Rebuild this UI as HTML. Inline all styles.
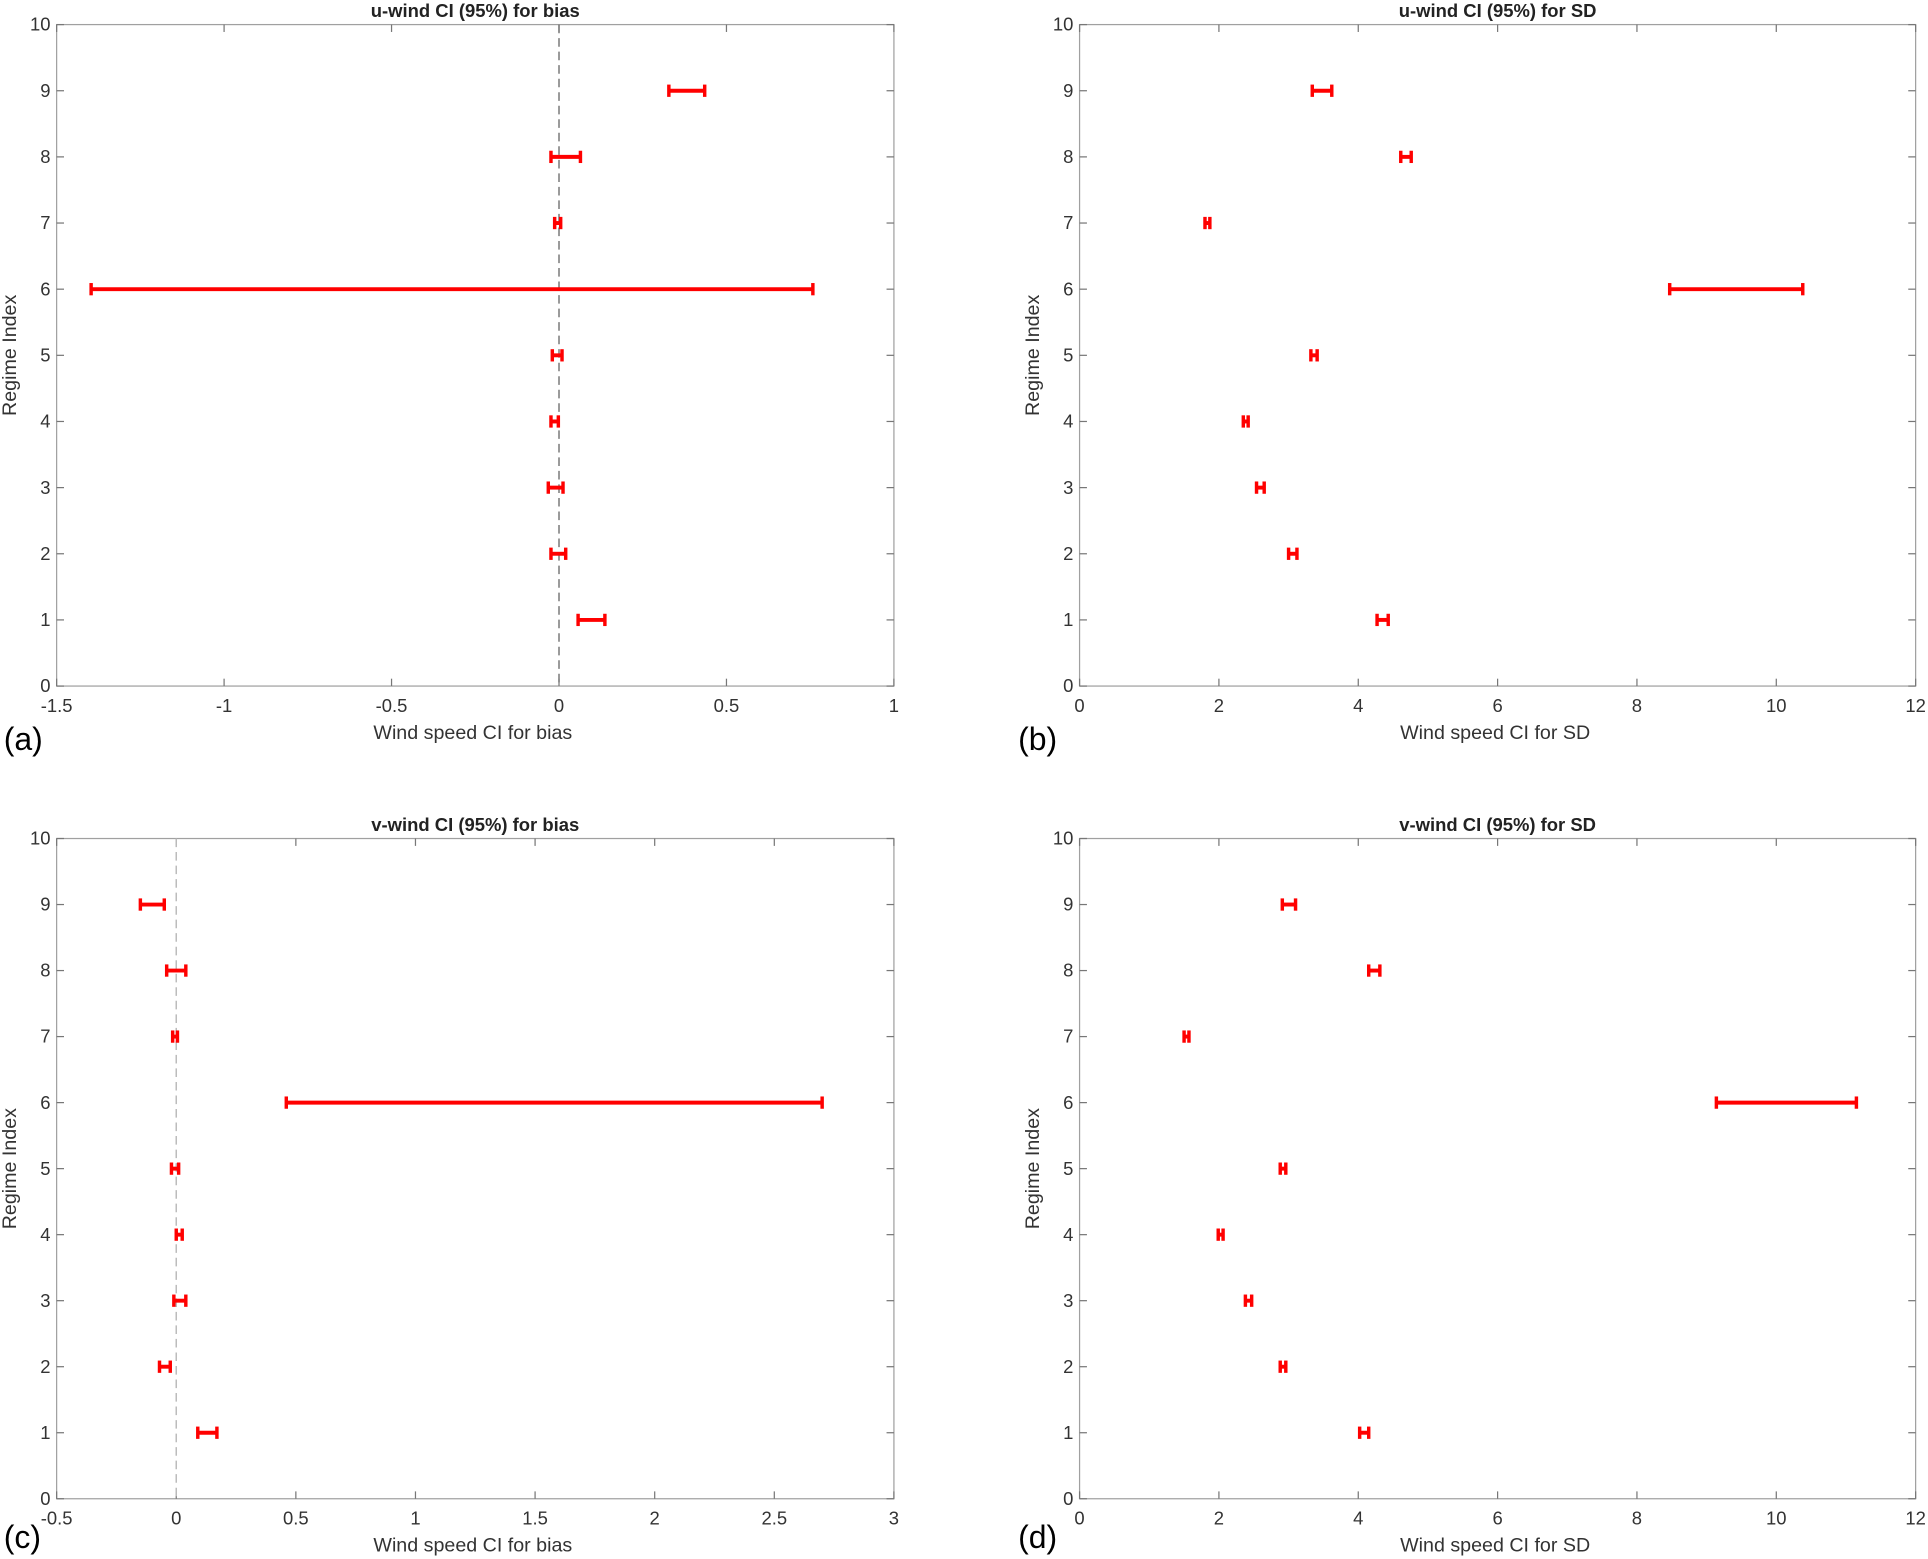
<!DOCTYPE html>
<html><head><meta charset="utf-8"><style>
html,body{margin:0;padding:0;background:#fff;}
svg{display:block;font-family:"Liberation Sans",Arial,sans-serif;}
</style></head><body>
<svg id="fig" width="1928" height="1559" viewBox="0 0 1568 1268" xmlns="http://www.w3.org/2000/svg"></svg>
<script>
const regimes=[1,2,3,4,5,6,7,8,9];
const uBiasLo=[0.057,-0.024,-0.032,-0.024,-0.02,-1.397,-0.013,-0.024,0.328];
const uBiasHi=[0.137,0.02,0.012,-0.002,0.009,0.758,0.005,0.064,0.435];
const uSdLo=[4.27,3.0,2.54,2.35,3.32,8.47,1.80,4.61,3.34];
const uSdHi=[4.43,3.12,2.65,2.42,3.41,10.38,1.87,4.76,3.62];
const vBiasLo=[0.09,-0.07,-0.01,0.0,-0.02,0.46,-0.015,-0.04,-0.15];
const vBiasHi=[0.17,-0.025,0.04,0.025,0.01,2.70,0.005,0.04,-0.05];
const vSdLo=[4.02,2.88,2.38,1.99,2.88,9.14,1.5,4.15,2.91];
const vSdHi=[4.15,2.96,2.47,2.06,2.96,11.15,1.57,4.31,3.1];
const yTicks=[0,1,2,3,4,5,6,7,8,9,10];
const xTicksA=[-1.5,-1,-0.5,0,0.5,1];
const xTicksSD=[0,2,4,6,8,10,12];
const xTicksC=[-0.5,0,0.5,1,1.5,2,2.5,3];

const NS="http://www.w3.org/2000/svg";
const svg=document.getElementById('fig');
function mk(tag,attrs,parent){const e=document.createElementNS(NS,tag);for(const k in attrs)e.setAttribute(k,attrs[k]);(parent||svg).appendChild(e);return e;}

function panel(o){
  const g=mk('g',{});
  
  
  const L=o.L,R=o.R,T=o.T,B=o.B;
  const xs=v=>L+(v-o.xmin)/(o.xmax-o.xmin)*(R-L);
  const ys=v=>B-(v-0)/10*(B-T);
  const fr=mk('rect',{x:L,y:T,width:R-L,height:B-T,fill:'none',stroke:'#a0a0a0','stroke-width':1},g);
  
  
  yTicks.forEach(t=>{
    const y=ys(t);
    mk('line',{x1:L,x2:L+6,y1:y,y2:y,stroke:'#777'},g);
    mk('line',{x1:R-6,x2:R,y1:y,y2:y,stroke:'#777'},g);
    const tx=mk('text',{x:L-5,y:y+5,'text-anchor':'end','font-size':15,fill:'#333'},g);
    tx.textContent=t;
    
    
  });
  o.xt.forEach(t=>{
    const x=xs(t);
    mk('line',{x1:x,x2:x,y1:B,y2:B-6,stroke:'#777'},g);
    mk('line',{x1:x,x2:x,y1:T,y2:T+6,stroke:'#777'},g);
    const tx=mk('text',{x:x,y:B+21,'text-anchor':'middle','font-size':15,fill:'#333'},g);
    tx.textContent=t;
    
    
  });
  if(o.zero){
    const zl=mk('line',{x1:xs(0),x2:xs(0),y1:T,y2:B,stroke:o.zc,'stroke-width':1.2,'stroke-dasharray':'7,4'},g);
    
    
  }
  regimes.forEach((r,i)=>{
    const y=ys(r),x1=xs(o.lo[i]),x2=xs(o.hi[i]);
    const eg=mk('g',{stroke:'#ff0000','stroke-width':3.2},g);
    
    
    mk('line',{x1:x1,x2:x2,y1:y,y2:y},eg);
    mk('line',{x1:x1,x2:x1,y1:y-5,y2:y+5,'stroke-width':2.8},eg);
    mk('line',{x1:x2,x2:x2,y1:y-5,y2:y+5,'stroke-width':2.8},eg);
  });
  const ti=mk('text',{x:(L+R)/2,y:T-6,'text-anchor':'middle','font-size':15,'font-weight':'bold',fill:'#222'},g);
  ti.textContent=o.title;
  
  
  const xl=mk('text',{x:(L+R)/2-2,y:B+43,'text-anchor':'middle','font-size':16,fill:'#333'},g);
  xl.textContent=o.xlabel;
  
  
  const cy=(T+B)/2;
  const yl=mk('text',{x:0,y:0,'text-anchor':'middle','font-size':16,fill:'#333',transform:`translate(${L-33},${cy}) rotate(-90)`},g);
  yl.textContent='Regime Index';
  
  
  const pl=mk('text',{x:o.lx,y:B+o.ly,'font-size':26,fill:'#000'},g);
  pl.textContent=o.lab;
  
  
}
panel({name:'panel-a',L:46,R:727,T:20,B:558,xmin:-1.5,xmax:1,xt:xTicksA,lo:uBiasLo,hi:uBiasHi,zero:true,zc:'#777',title:'u-wind CI (95%) for bias',xlabel:'Wind speed CI for bias',lab:'(a)',lx:3,ly:52});
panel({name:'panel-b',L:878,R:1558,T:20,B:558,xmin:0,xmax:12,xt:xTicksSD,lo:uSdLo,hi:uSdHi,zero:false,title:'u-wind CI (95%) for SD',xlabel:'Wind speed CI for SD',lab:'(b)',lx:828,ly:52});
panel({name:'panel-c',L:46,R:727,T:682,B:1219,xmin:-0.5,xmax:3,xt:xTicksC,lo:vBiasLo,hi:vBiasHi,zero:true,zc:'#bbb',title:'v-wind CI (95%) for bias',xlabel:'Wind speed CI for bias',lab:'(c)',lx:3,ly:40});
panel({name:'panel-d',L:878,R:1558,T:682,B:1219,xmin:0,xmax:12,xt:xTicksSD,lo:vSdLo,hi:vSdHi,zero:false,title:'v-wind CI (95%) for SD',xlabel:'Wind speed CI for SD',lab:'(d)',lx:828,ly:40});
</script>
</body></html>
